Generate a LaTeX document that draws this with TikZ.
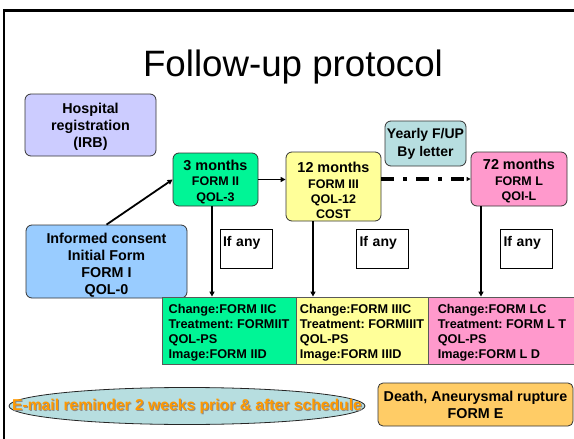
\documentclass[tikz,border=0pt]{standalone}
\usepackage{fontspec}
\setmainfont{Liberation Sans}
\usepackage{xcolor}
\usetikzlibrary{positioning,arrows.meta,shapes.geometric}
\definecolor{regcol}{HTML}{CCCCFF}
\definecolor{consentcol}{HTML}{99CCFF}
\definecolor{greencol}{HTML}{00F596}
\definecolor{yellowcol}{HTML}{FFFF99}
\definecolor{pinkcol}{HTML}{FF99CC}
\definecolor{aquacol}{HTML}{B7DEE0}
\definecolor{deathcol}{HTML}{FFCC66}
\definecolor{mailtext}{HTML}{FF9900}
\newcommand{\visithead}[1]{{\fontsize{14.4}{16}\selectfont #1}}
\frenchspacing

\begin{document}
\begin{tikzpicture}[x={(1pt,0pt)}, y={(0pt,-1pt)},
  % a taller text box lets the text block sit lower in its box
  padtop/.style={text height=#1},
  box/.style={draw=black!80, line width=0.8pt, rounded corners=6pt, align=center,
    inner sep=0pt, font=\bfseries\fontsize{14.3}{17}\selectfont},
  visit/.style={box, font=\bfseries\fontsize{12.5}{15.3}\selectfont},
  formbox/.style={draw=black!65, line width=0.8pt, align=left, inner sep=0pt, padtop=58pt,
    minimum height=67pt, font=\bfseries\fontsize{12.7}{15}\selectfont},
  ifbox/.style={draw, line width=0.6pt, align=left, text width=46pt, inner xsep=3pt,
    inner ysep=4pt, text height=13pt, text depth=18pt, font=\bfseries\fontsize{14}{16}\selectfont},
  arr/.style={line width=1.6pt, -{Triangle[length=5pt,width=5pt]}}]
  \useasboundingbox (0,0) rectangle (574,439);
  \clip (0,0) rectangle (574,439);

  % slide frame
  \draw[line width=2.4pt] (4,450) -- (4,10.5) -- (590,10.5);

  \node[anchor=base, font=\fontsize{36.7}{40}\selectfont] (title) at (293,76.5) {Follow-up protocol};

  % start of the study
  \node[box, padtop=48pt, fill=regcol, minimum width=131pt, minimum height=62pt] (hosp) at (90.5,125)
    {Hospital\\registration\\(IRB)};
  \node[box, padtop=69pt, fill=consentcol, minimum width=161pt, minimum height=73pt] (consent) at (106.5,261.5)
    {Informed consent\\Initial Form\\FORM I\\QOL-0};

  % visits
  \node[visit, padtop=46pt, fill=greencol, minimum width=85pt, minimum height=53pt] (m3) at (215.5,179.5)
    {\visithead{3 months}\\FORM II\\QOL-3};
  \node[visit, padtop=64.5pt, fill=yellowcol, minimum width=95pt, minimum height=69pt] (m12) at (333.5,186.5)
    {\visithead{12 months}\\FORM III\\QOL-12\\COST};
  \node[box, fill=aquacol, minimum width=81pt, minimum height=45pt, font=\bfseries\fontsize{14}{18}\selectfont]
    (yearly) at (425.5,143.5) {Yearly F/UP\\By letter};
  \node[visit, padtop=45.5pt, fill=pinkcol, minimum width=96pt, minimum height=54pt] (m72) at (519,179)
    {\visithead{72 months}\\FORM L\\QOI-L};

  \node[ifbox] (if3) at (246,248.5) {If any};
  \node[ifbox] (if12) at (382.5,248.5) {If any};
  \node[ifbox] (if72) at (526.5,248.5) {If any};

  % forms filled at each visit
  \node[formbox, fill=greencol, minimum width=134pt] (chg3) at (229,330.5)
    {Change:FORM IIC\\Treatment: FORMIIT\\QOL-PS\\Image:FORM IID};
  \node[formbox, fill=yellowcol, minimum width=132pt] (chg12) at (362,330.5)
    {Change:FORM IIIC\\Treatment: FORMIIIT\\QOL-PS\\Image:FORM IIID};
  \node[formbox, fill=pinkcol, minimum width=148pt] (chg72) at (502,330.5)
    {Change:FORM LC\\Treatment: FORM L T\\QOL-PS\\Image:FORM L D};

  % connectors
  \draw[line width=1.8pt, -{Triangle[length=5pt,width=5pt]}] (consent.north) -- (m3.west);
  \draw[arr] (m3.east) -- (m3.east -| m12.west);
  \draw[line width=3.2pt, dash pattern=on 13pt off 9pt on 4pt off 9pt,
    -{Triangle[length=4pt,width=4pt]}] (m12.east |- m72.west) -- (m72.west);
  \draw[arr, line width=1.4pt] ([xshift=-3.5]m3.south) -- ([xshift=-3.5]m3.south |- chg3.north);
  \draw[arr, line width=1.4pt] ([xshift=-20.5]m12.south) -- ([xshift=-20.5]m12.south |- chg12.north);
  \draw[arr, line width=1.4pt] ([xshift=-38]m72.south) -- ([xshift=-38]m72.south |- chg72.north);

  % reminders and end point
  \node[ellipse, draw=black!85, line width=0.8pt, fill=aquacol, minimum width=356pt,
    minimum height=37pt, inner sep=0pt] (mail) at (187,406) {};
  \node[font=\bfseries\fontsize{15.7}{18}\selectfont, text=black!45] at ([shift={(1,1)}]mail.center)
    {E-mail reminder 2 weeks prior \& after schedule};
  \node[font=\bfseries\fontsize{15.7}{18}\selectfont, text=mailtext] (mailtxt) at (mail.center)
    {E-mail reminder 2 weeks prior \& after schedule};
  \node[box, fill=deathcol, rounded corners=5pt, minimum width=195pt, minimum height=43pt]
    (death) at (475.5,404.5) {Death, Aneurysmal rupture\\FORM E};
\end{tikzpicture}
\end{document}
